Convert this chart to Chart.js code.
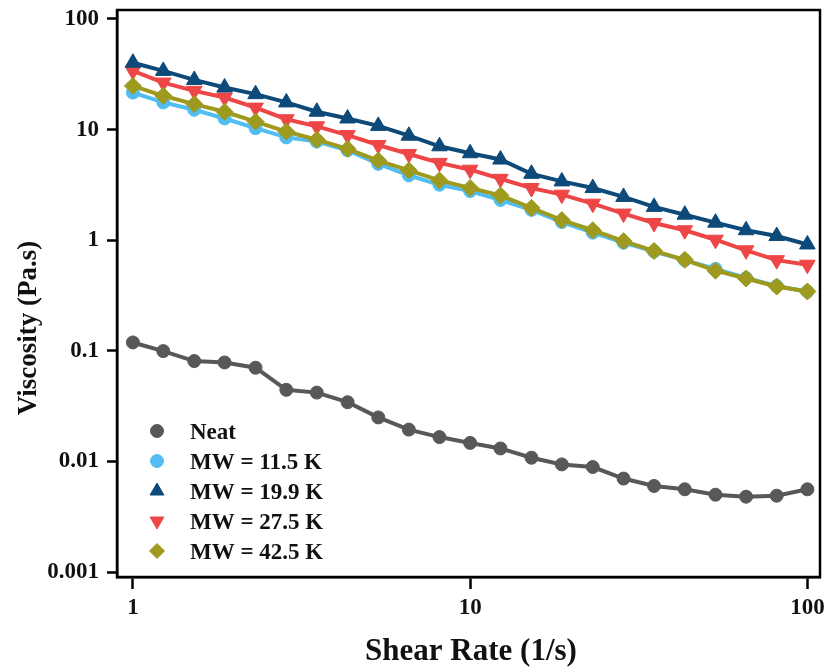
<!DOCTYPE html>
<html>
<head>
<meta charset="utf-8">
<title>Viscosity vs Shear Rate</title>
<script src="https://cdn.jsdelivr.net/npm/chart.js@4.4.1/dist/chart.umd.min.js"></script>
<style>
  html, body { margin: 0; padding: 0; background: #fff; }
  #chart { display: block; }
</style>
</head>
<body>
<canvas id="chart" width="830" height="670"></canvas>
<script>
// shear rate steps (1/s), 11 per decade
const shearRate = [1, 1.23, 1.52, 1.87, 2.31, 2.85, 3.51, 4.33, 5.34, 6.58, 8.11, 10, 12.3, 15.2, 18.7, 23.1, 28.5, 35.1, 43.3, 53.4, 65.8, 81.1, 100];

// viscosity (Pa.s)
const neat = [0.119, 0.0994, 0.0808, 0.0785, 0.0703, 0.0444, 0.0419, 0.0343, 0.025, 0.0194, 0.0166, 0.0147, 0.0131, 0.0108, 0.0094, 0.0089, 0.0070, 0.0060, 0.0056, 0.0050, 0.0048, 0.0049, 0.0056];
const mw115 = [21.6, 17.6, 15.1, 12.6, 10.3, 8.5, 7.8, 6.5, 4.9, 3.85, 3.17, 2.78, 2.31, 1.88, 1.46, 1.17, 0.95, 0.79, 0.66, 0.55, 0.455, 0.385, 0.344];
const mw199 = [40.2, 33.9, 28.1, 24.0, 20.9, 17.6, 14.5, 12.6, 10.8, 8.8, 7.06, 6.11, 5.36, 3.98, 3.40, 2.96, 2.46, 2.00, 1.70, 1.44, 1.23, 1.09, 0.915];
const mw275 = [33.9, 26.6, 22.4, 19.5, 15.8, 12.4, 10.7, 8.92, 7.25, 6.02, 5.00, 4.34, 3.59, 2.96, 2.58, 2.14, 1.74, 1.43, 1.23, 1.01, 0.81, 0.66, 0.60];
const mw425 = [24.8, 20.2, 17.0, 14.5, 11.8, 9.6, 8.1, 6.7, 5.25, 4.27, 3.47, 2.96, 2.54, 1.96, 1.52, 1.23, 0.98, 0.80, 0.665, 0.53, 0.45, 0.381, 0.344];

const seriesNames = ["Neat", "MW = 11.5 K", "MW = 19.9 K", "MW = 27.5 K", "MW = 42.5 K"];

const xTicks = [1, 10, 100];
const xTickLabels = ["1", "10", "100"];
const yTicks = [0.001, 0.01, 0.1, 1, 10, 100];
const yTickLabels = ["0.001", "0.01", "0.1", "1", "10", "100"];

const FONT = "'Liberation Serif', 'Times New Roman', serif";

function toPoints(values) {
  return values.map((v, i) => ({ x: shearRate[i], y: v }));
}

const styles = [
  { color: "#585858", pointStyle: "circle", radius: 6.5, rotation: 0, order: 5 },
  { color: "#52bdf2", pointStyle: "circle", radius: 6.5, rotation: 0, order: 4 },
  { color: "#0d4a79", pointStyle: "triangle", radius: 9, rotation: 0, order: 2 },
  { color: "#ee4646", pointStyle: "triangle", radius: 9, rotation: 180, order: 3 },
  { color: "#9e9a1e", pointStyle: "rectRot", radius: 8.5, rotation: 0, order: 1 },
];

const seriesValues = [neat, mw115, mw199, mw275, mw425];

const datasets = seriesValues.map((values, i) => ({
  label: seriesNames[i],
  data: toPoints(values),
  borderColor: styles[i].color,
  backgroundColor: styles[i].color,
  borderWidth: 4,
  pointStyle: styles[i].pointStyle,
  pointRadius: styles[i].radius,
  pointRotation: styles[i].rotation,
  pointBorderWidth: 1,
  pointBorderColor: styles[i].color,
  pointBackgroundColor: styles[i].color,
  tension: 0,
  order: styles[i].order,
}));

// box frame, axis titles and the inset legend
const decorations = {
  id: "decorations",
  afterDraw(chart) {
    const ctx = chart.ctx;
    const a = chart.chartArea;
    ctx.save();
    ctx.strokeStyle = "#000";
    ctx.lineWidth = 2.5;
    ctx.strokeRect(a.left, a.top, a.right - a.left, a.bottom - a.top);

    ctx.fillStyle = "#111";
    ctx.font = "bold 31px " + FONT;
    ctx.textAlign = "center";
    ctx.textBaseline = "alphabetic";
    ctx.fillText("Shear Rate (1/s)", 471, 660);

    ctx.save();
    ctx.translate(36, 328);
    ctx.rotate(-Math.PI / 2);
    ctx.font = "bold 27px " + FONT;
    ctx.fillText("Viscosity (Pa.s)", 0, 0);
    ctx.restore();

    // legend
    const rowY = [431, 461, 491, 521, 551];
    ctx.font = "bold 23px " + FONT;
    ctx.textAlign = "left";
    ctx.textBaseline = "alphabetic";
    seriesNames.forEach((name, i) => {
      const s = styles[i];
      ctx.fillStyle = s.color;
      ctx.strokeStyle = s.color;
      ctx.lineWidth = 1;
      Chart.helpers.drawPoint(ctx, {
        pointStyle: s.pointStyle,
        radius: s.pointStyle === "circle" ? 6.5 : s.radius - 1,
        rotation: s.rotation,
        borderWidth: 1,
      }, 157, rowY[i]);
      ctx.fillStyle = "#111";
      ctx.fillText(name, 190, rowY[i] + 7.5);
    });
    ctx.restore();
  },
};

function decadeTicks(values) {
  return function (scale) {
    scale.ticks = values.map((v) => ({ value: v }));
  };
}

new Chart(document.getElementById("chart"), {
  type: "line",
  data: { datasets: datasets },
  options: {
    responsive: false,
    animation: false,
    devicePixelRatio: 1,
    layout: { padding: { top: 7, right: 7, left: 0, bottom: 0 } },
    plugins: {
      legend: { display: false },
      tooltip: { enabled: false },
    },
    scales: {
      x: {
        type: "logarithmic",
        min: 0.897,
        max: 109,
        afterBuildTicks: decadeTicks(xTicks),
        afterFit: (scale) => {
          scale.height = 93;
          scale.paddingLeft = 0;
          scale.paddingRight = 0;
        },
        grid: {
          display: true,
          drawOnChartArea: false,
          drawTicks: true,
          tickLength: 12,
          tickWidth: 2.5,
          tickColor: "#000",
        },
        border: { display: true, color: "#000", width: 2.5 },
        ticks: {
          color: "#111",
          padding: 5,
          maxRotation: 0,
          autoSkip: false,
          font: { family: FONT, size: 23, weight: "bold" },
          callback: (value) => xTickLabels[xTicks.indexOf(value)],
        },
      },
      y: {
        type: "logarithmic",
        min: 0.000902,
        max: 120.5,
        afterBuildTicks: decadeTicks(yTicks),
        afterFit: (scale) => {
          scale.width = 117;
          scale.paddingTop = 0;
          scale.paddingBottom = 0;
        },
        grid: {
          display: true,
          drawOnChartArea: false,
          drawTicks: true,
          tickLength: 10,
          tickWidth: 2.5,
          tickColor: "#000",
        },
        border: { display: true, color: "#000", width: 2.5 },
        ticks: {
          color: "#111",
          padding: 8,
          autoSkip: false,
          font: { family: FONT, size: 23, weight: "bold" },
          callback: (value) => yTickLabels[yTicks.indexOf(value)],
        },
      },
    },
  },
  plugins: [decorations],
});
</script>
</body>
</html>
